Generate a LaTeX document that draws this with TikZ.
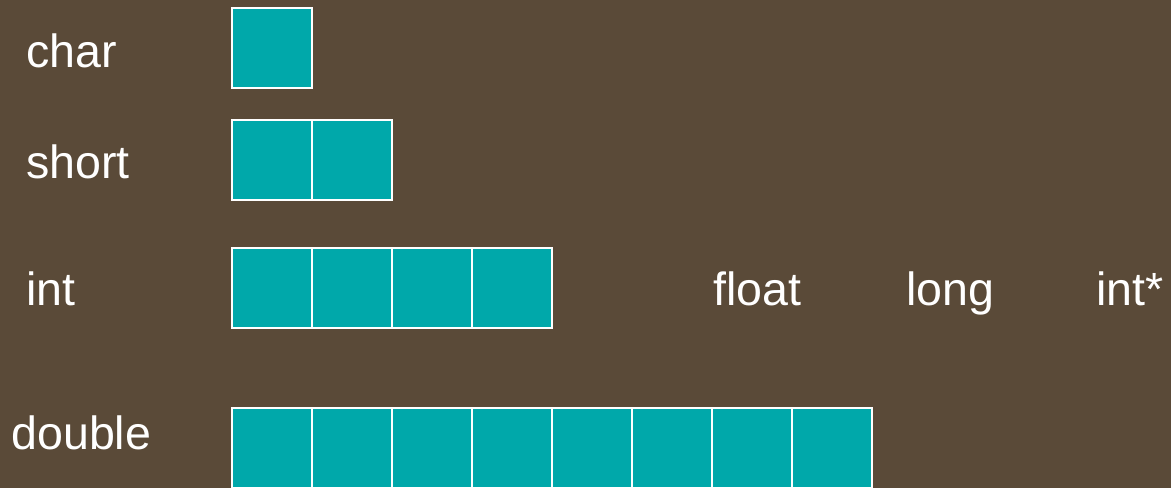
\documentclass[tikz,border=0pt]{standalone}
\usepackage{fontspec}
\setmainfont{Liberation Sans}
\usepackage{tikz}

\definecolor{bgbrown}{HTML}{5A4A38}
\definecolor{cellteal}{HTML}{00A8AA}

\tikzset{
  cell/.style={rectangle, draw=white, line width=1.1pt, fill=cellteal, minimum size=1.6cm, inner sep=0pt, outer sep=0pt},
  typename/.style={anchor=base west, text=white, inner sep=0pt, font=\fontsize{26.5}{32}\selectfont},
}

\begin{document}
\begin{tikzpicture}[x=0.02cm, y=-0.02cm]
\fill[bgbrown] (0,0) rectangle (1171,488);
\useasboundingbox (0,0) rectangle (1171,488);

% type names
\node (lchar) [typename] at (26,67.5) {char};
\node (lshort) [typename] at (26,178.5) {short};
\node (lint) [typename] at (26,305.5) {int};
\node (ldouble) [typename] at (11,449) {double};
\node (lfloat) [typename] at (713,305.5) {float};
\node (llong) [typename] at (906,305.5) {long};
\node (lptr) [typename] at (1096,305.5) {int*};

% one cell per byte
\foreach \row/\n/\y in {char/1/48, short/2/160, int/4/288, double/8/448}
  \foreach \i in {1,...,\n}
    \node (\row\i) [cell] at ({192+80*\i},\y) {};
\end{tikzpicture}
\end{document}
